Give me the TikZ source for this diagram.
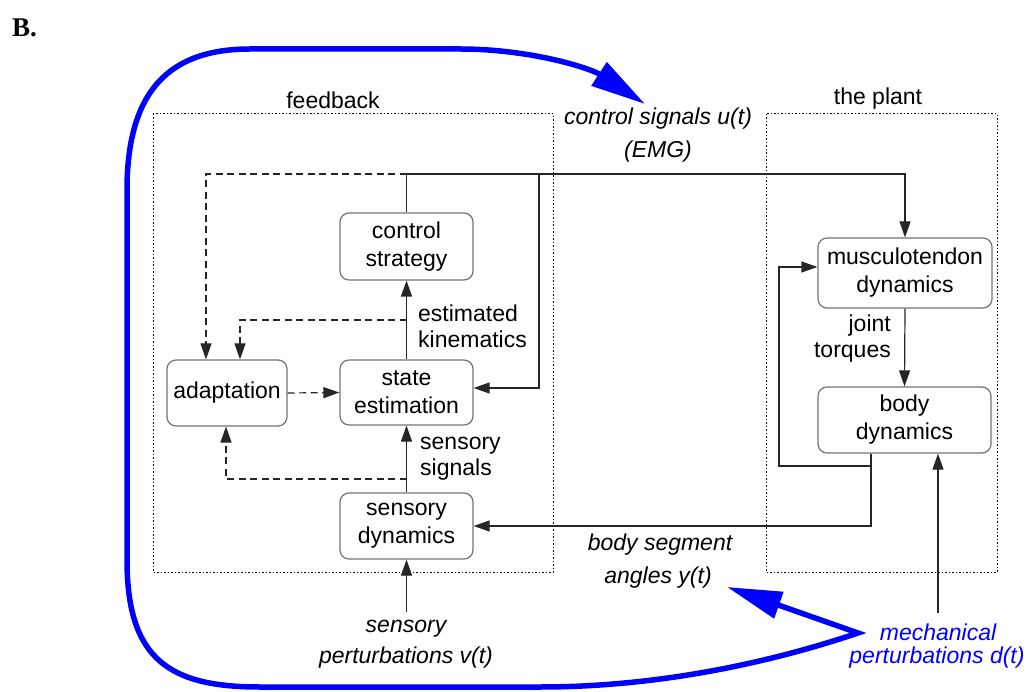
\documentclass[tikz,border=0pt]{standalone}
\usepackage{fontspec}
\setmainfont{Liberation Sans}
\newfontfamily\serifb{Liberation Serif}
\usetikzlibrary{arrows.meta}
\begin{document}
\begin{tikzpicture}[x=1pt,y=-1pt,
  blk/.style={draw=black!55, line width=1.2pt, rounded corners=9pt, align=center, inner sep=0pt, font=\fontsize{23}{28}\selectfont},
  conn/.style={draw=black!85, line width=1.2pt},
  arr/.style={conn, -{Triangle[length=16pt,width=11pt]}},
  dsh/.style={dash pattern=on 7pt off 4.5pt},
  region/.style={draw=black, line width=1pt, dash pattern=on 1.5pt off 2pt},
  lbl/.style={font=\fontsize{23}{26}\selectfont, inner sep=0pt},
  ilbl/.style={font=\fontsize{23}{26}\selectfont\itshape, inner sep=0pt},
  bluepath/.style={draw=blue, line width=5.5pt, line join=miter, {Triangle[length=55pt,width=27pt]}-{Triangle[length=55pt,width=27pt]}}
]
\useasboundingbox (0,0) rectangle (1033,692);

\node[font=\serifb\bfseries\fontsize{27}{30}\selectfont, anchor=west, inner sep=0pt] (B) at (12,28) {B.};

% regions
\draw[region] (153,114) rectangle (553,572);
\draw[region] (766,114) rectangle (997,572);
\node[lbl] (fbl) at (333,100) {feedback};
\node[lbl] (pll) at (878,99) {the plant};

% blocks
\node[blk, minimum width=133pt, minimum height=67pt] (cs) at (406.5,246.5) {control\\strategy};
\node[blk, minimum width=133pt, minimum height=65pt] (se) at (406.5,392.5) {state\\estimation};
\node[blk, minimum width=120pt, minimum height=66pt] (ad) at (227,393) {adaptation};
\node[blk, minimum width=133pt, minimum height=66pt] (sd) at (406.5,526) {sensory\\dynamics};
\node[blk, minimum width=174pt, minimum height=70pt] (mt) at (905,273) {musculotendon\\dynamics};
\node[blk, minimum width=173pt, minimum height=66pt] (bd) at (904.5,420) {body\\dynamics};

% junction coordinates
\coordinate (j1) at (406.5,174);
\coordinate (j2) at (539,174);
\coordinate (j3) at (406.5,320);
\coordinate (j4) at (406.5,479);
\coordinate (b1) at (871,466);
\coordinate (b2) at (779,466);
\coordinate (m0) at (938,613);
\coordinate (s0) at (406.5,612);

% connectors
\draw[conn] (cs.north) -- (j1);
\draw[arr] (j1) -| (mt.north);
\draw[arr] (j2) |- ([yshift=4.5pt]se.east);
\draw[arr,dsh] (j1) -| ([xshift=-21pt]ad.north);
\draw[arr] (se.north) -- (cs.south);
\draw[arr,dsh] (j3) -| ([xshift=13pt]ad.north);
\draw[arr,dsh] (ad.east) -- (se.west);
\draw[arr] (sd.north) -- (se.south);
\draw[arr,dsh] (j4) -| ([xshift=-1pt]ad.south);
\draw[arr] (mt.south) -- (bd.north);
\draw[arr] ([xshift=-33.5pt]bd.south) -- (b1) -- (b2) |- ([yshift=6pt]mt.west);
\draw[arr] (b1) |- (sd.east);
\draw[arr] (m0) -- ([xshift=33.5pt]bd.south);
\draw[arr] (s0) -- (sd.south);

% labels
\node[lbl, align=left, anchor=west] (ek) at (418,326) {estimated\\kinematics};
\node[lbl, align=left, anchor=west] (ss) at (420,459) {sensory\\signals};
\node[lbl, align=right, anchor=east] (jt) at (891,339) {joint\\torques};
\node[ilbl] (cu) at (658,119) {control signals u(t)};
\node[ilbl] (emg) at (658,152) {(EMG)};
\node[ilbl] (bs) at (660,545) {body segment};
\node[ilbl] (ay) at (658,578) {angles y(t)};
\node[ilbl] (sp1) at (406,629) {sensory};
\node[ilbl] (sp2) at (406,658) {perturbations v(t)};
\node[ilbl, text=blue] (mp1) at (938,632) {mechanical};
\node[ilbl, text=blue] (mp2) at (937,658) {perturbations d(t)};

% blue feedback loop
\coordinate (ang) at (727,587);
\coordinate (mj) at (858,633);
\coordinate (ctl) at (645,104);
\draw[bluepath] (ang) -- (mj) .. controls (760,666) and (650,687) .. (540,687) -- (260,687)
  .. controls (170,687) and (127,660) .. (127,560) -- (127,190)
  .. controls (127,90) and (170,49) .. (250,49) -- (460,49)
  .. controls (530,49) and (590,68) .. (ctl);
\end{tikzpicture}
\end{document}
